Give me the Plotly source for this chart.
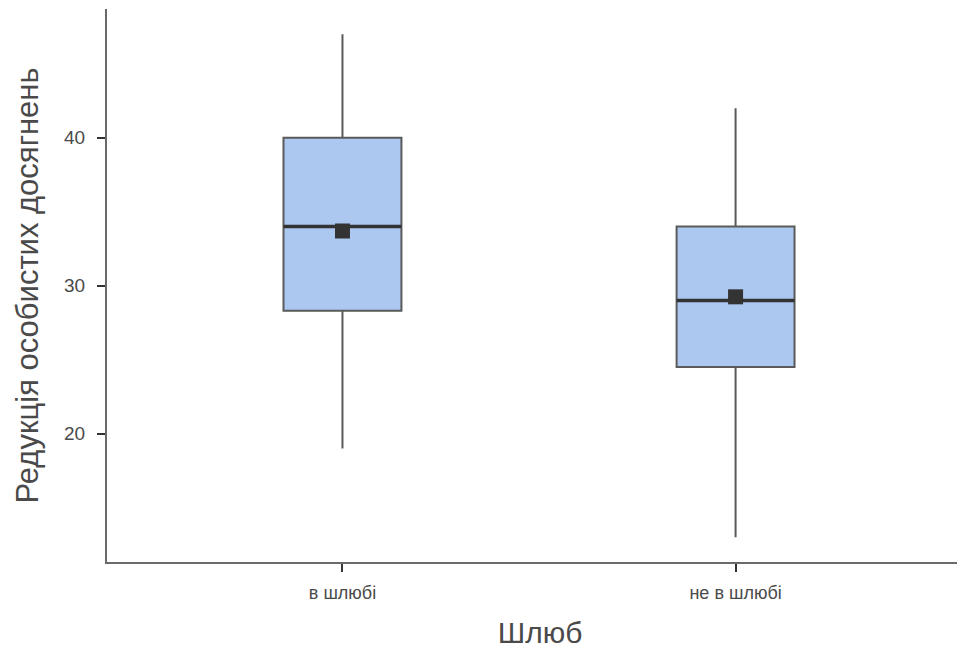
import plotly.graph_objects as go

categories = ["в шлюбі", "не в шлюбі"]
q1 = [28.3, 24.5]
median = [34, 29]
q3 = [40, 34]
lower_whisker = [19, 13]
upper_whisker = [47, 42]
means = [33.7, 29.25]

FONT = "Liberation Sans, Arial, sans-serif"
TXT = "#4a4a4a"

fig = go.Figure()
fig.add_trace(go.Box(
    x=categories, q1=q1, median=median, q3=q3,
    lowerfence=lower_whisker, upperfence=upper_whisker,
    width=0.3, whiskerwidth=0, fillcolor="#adc8f0",
    line=dict(color="#5a5a5a", width=2),
    boxpoints=False, hoverinfo="skip", showlegend=False,
))
# median lines (thicker, darker)
fig.add_trace(go.Box(
    x=categories, q1=median, median=median, q3=median,
    lowerfence=median, upperfence=median,
    width=0.3, whiskerwidth=0, fillcolor="rgba(0,0,0,0)",
    line=dict(color="#333333", width=3.5),
    boxpoints=False, hoverinfo="skip", showlegend=False,
))
fig.add_trace(go.Scatter(
    x=categories, y=means, mode="markers",
    marker=dict(symbol="square", size=15, color="#333333"),
    showlegend=False, hoverinfo="skip",
))

fig.update_layout(
    width=965, height=652,
    margin=dict(l=99, r=0, t=1, b=98),
    plot_bgcolor="white", paper_bgcolor="white",
    boxmode="overlay",
    font=dict(family=FONT, color=TXT),
)
fig.update_xaxes(
    range=[-0.599, 1.604], showline=True, linecolor="#6a6a6a", linewidth=2,
    ticks="outside", ticklen=8, tickwidth=2, tickcolor="#333333",
    tickfont=dict(size=18, color=TXT, family=FONT), ticklabelstandoff=5,
    showgrid=False, zeroline=False,
    title=dict(text="Шлюб", font=dict(size=30, color=TXT, family=FONT), standoff=20),
)
fig.update_yaxes(
    range=[11.32, 48.71], showline=True, linecolor="#6a6a6a", linewidth=2,
    tickvals=[20, 30, 40], ticks="outside", ticklen=8, tickwidth=2, tickcolor="#333333",
    tickfont=dict(size=19, color=TXT, family=FONT), ticklabelstandoff=8,
    showgrid=False, zeroline=False,
    title=dict(text="Редукція особистих досягнень", font=dict(size=31, color=TXT, family=FONT), standoff=16),
)

fig.write_html("out.html")
